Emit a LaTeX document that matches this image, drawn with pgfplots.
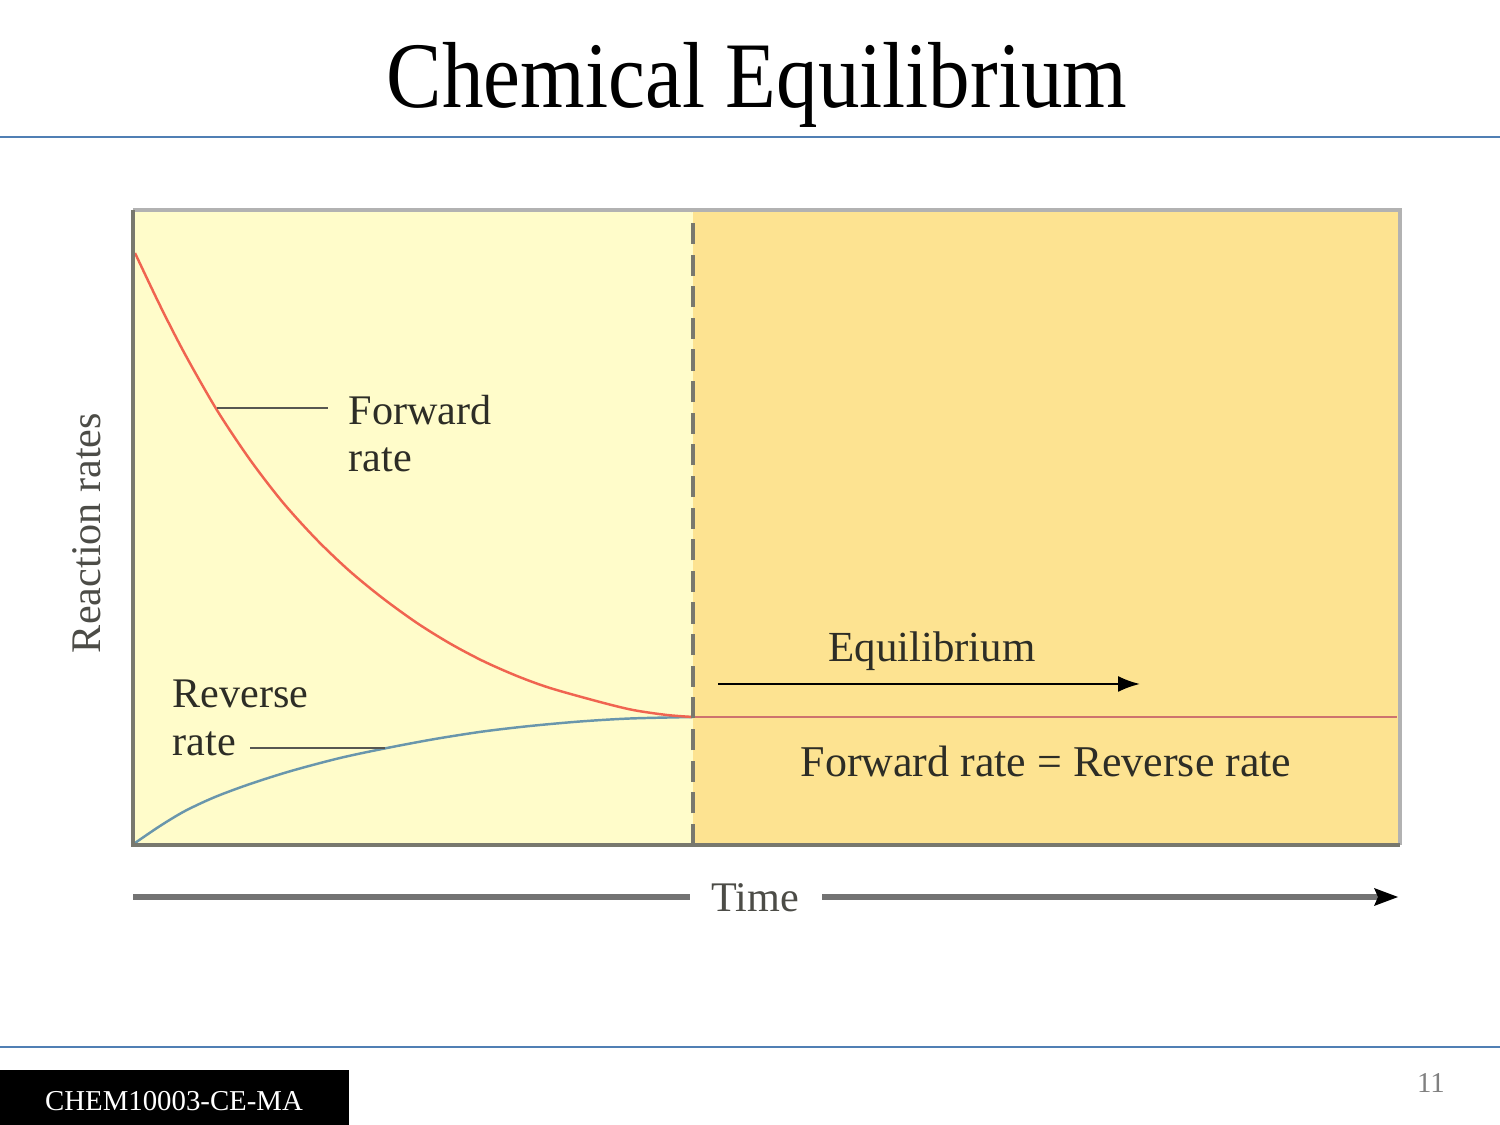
\documentclass[border=0pt]{standalone}
\usepackage{pgfplots}
\pgfplotsset{compat=1.18}
\usepackage{fontspec}
\setmainfont{Liberation Serif}
\usetikzlibrary{arrows.meta}
\definecolor{leftbg}{RGB}{255,252,202}
\definecolor{rightbg}{RGB}{253,227,145}
\definecolor{fwd}{RGB}{240,100,80}
\definecolor{rev}{RGB}{105,150,172}
\definecolor{eqline}{RGB}{205,115,110}
\definecolor{frameD}{RGB}{120,120,110}
\definecolor{frameL}{RGB}{178,178,178}
\definecolor{txt}{RGB}{45,45,38}
\definecolor{rule}{RGB}{80,127,180}
\definecolor{timeg}{RGB}{115,115,115}
\begin{document}
\begin{tikzpicture}
\useasboundingbox (0,0) rectangle (15,11.25);
% title and rules
\node[anchor=base] at (7.57,10.17) {\scalebox{0.885}[1]{\fontsize{26.7}{30}\selectfont Chemical Equilibrium}};
\draw[rule, line width=0.6pt] (0,9.88) -- (15,9.88);
\draw[rule, line width=0.6pt] (0,0.78) -- (15,0.78);
\fill[black] (0,0) rectangle (3.49,0.55);
\node[anchor=base, text=white] at (1.74,0.15) {\fontsize{8.2}{10}\selectfont CHEM10003-CE-MA};
\node[anchor=base, text=gray] at (14.31,0.33) {\fontsize{8.2}{10}\selectfont 11};
\begin{axis}[
  at={(1.33cm,2.80cm)}, anchor=south west,
  width=12.67cm, height=6.35cm, scale only axis,
  xmin=133, xmax=1400, ymin=0, ymax=635,
  hide axis, clip=false]
\addplot[fill=leftbg, draw=none] coordinates {(133,0) (693,0) (693,635) (133,635)} \closedcycle;
\addplot[fill=rightbg, draw=none] coordinates {(693,0) (1400,0) (1400,635) (693,635)} \closedcycle;
\addplot[eqline, line width=0.7pt] coordinates {(693,128) (1397,128)};
\addplot[rev, line width=0.7pt, smooth] coordinates {
(135,2) (160,19) (185,34) (215,48) (250,61) (291,74) (340,87) (387,97) (435,106) (483,113.5) (530,119) (580,123.5) (630,126.5) (693,128)};
\addplot[fwd, line width=0.7pt, smooth] coordinates {
(135,592) (160,539.5) (185,490.8) (217,434.8) (250,385.3) (283,342.4) (317,305) (350,273.6) (383,246.6) (417,222) (450,201.5) (483,184) (517,169) (550,157) (600,143) (633,135) (667,130) (693,128)};
\draw[frameD, line width=0.9pt, dash pattern=on 6pt off 3pt] (axis cs:693,0) -- (axis cs:693,635);
\draw[frameL, line width=1pt] (axis cs:133,635) -- (axis cs:1400,635) -- (axis cs:1400,0);
\draw[frameD, line width=1pt] (axis cs:133,635) -- (axis cs:133,0) -- (axis cs:1400,0);
\end{axis}
% labels inside chart
\draw[txt!80, line width=0.6pt] (2.17,7.17) -- (3.28,7.17);
\node[anchor=base west, text=txt, inner sep=0pt] at (3.48,7.00) {\fontsize{12}{14}\selectfont Forward};
\node[anchor=base west, text=txt, inner sep=0pt] at (3.48,6.53) {\fontsize{12}{14}\selectfont rate};
\node[anchor=base west, text=txt, inner sep=0pt] at (1.72,4.18) {\fontsize{12}{14}\selectfont Reverse};
\node[anchor=base west, text=txt, inner sep=0pt] at (1.72,3.69) {\fontsize{12}{14}\selectfont rate};
\draw[txt!80, line width=0.6pt] (2.50,3.77) -- (3.85,3.77);
\node[anchor=base, text=txt, inner sep=0pt] at (9.32,4.63) {\fontsize{12.2}{14}\selectfont Equilibrium};
\draw[black, line width=0.6pt, -{Latex[length=2.2mm,width=1.6mm]}] (7.18,4.41) -- (11.40,4.41);
\node[anchor=base, text=txt, inner sep=0pt] at (10.46,3.48) {\fontsize{12.5}{14}\selectfont Forward rate = Reverse rate};
% time axis
\draw[timeg, line width=1.7pt] (1.33,2.28) -- (6.90,2.28);
\draw[timeg, line width=1.7pt] (8.22,2.28) -- (13.80,2.28);
\fill[black] (13.98,2.28) -- (13.74,2.37) -- (13.78,2.28) -- (13.74,2.19) -- cycle;
\node[anchor=base, text=txt!85, inner sep=0pt] at (7.55,2.13) {\fontsize{12}{14}\selectfont Time};
\node[anchor=base, text=txt!85, inner sep=0pt, rotate=90] at (1.01,5.92) {\fontsize{12}{14}\selectfont Reaction rates};
\end{tikzpicture}
\end{document}
